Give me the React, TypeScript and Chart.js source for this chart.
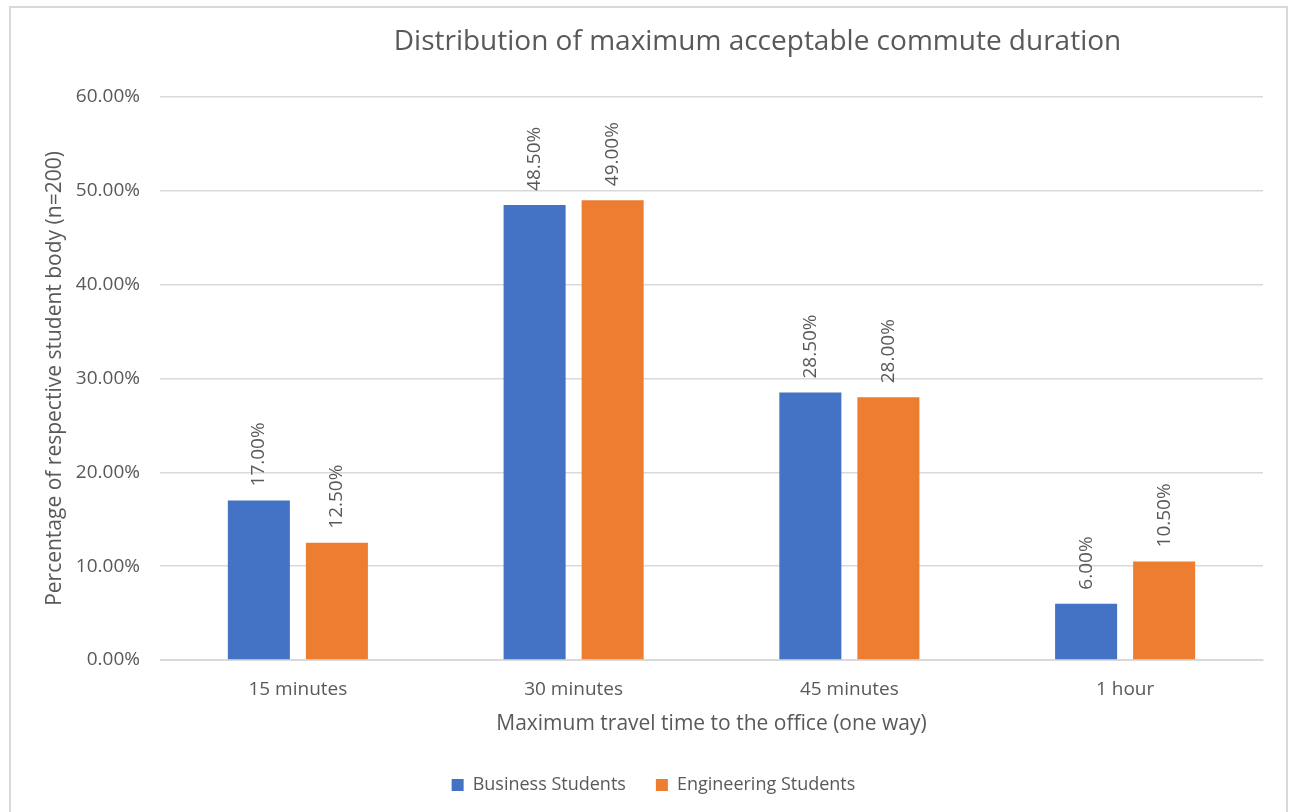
import React, { useEffect, useRef } from "react";
import { Chart, registerables } from "chart.js";

Chart.register(...registerables);

const categories = ["15 minutes", "30 minutes", "45 minutes", "1 hour"];
const businessValues = [17.0, 48.5, 28.5, 6.0];
const engineeringValues = [12.5, 49.0, 28.0, 10.5];
const seriesNames = ["Business Students", "Engineering Students"];
const chartTitle = "Distribution of maximum acceptable commute duration";
const xTitle = "Maximum travel time to the office (one way)";
const yTitle = "Percentage of respective student body (n=200)";

const FONT = '"Open Sans", "Noto Sans", sans-serif';
const TEXT = "#595959";

const titlePlugin = {
  id: "customTitle",
  afterDraw(chart: any) {
    const ctx = chart.ctx;
    const ca = chart.chartArea;
    ctx.save();
    ctx.font = `28px ${FONT}`;
    ctx.fillStyle = TEXT;
    ctx.textAlign = "center";
    ctx.textBaseline = "middle";
    ctx.fillText(chartTitle, (ca.left + ca.right) / 2 + 46, 42);
    ctx.restore();
  },
};

const dataLabelPlugin = {
  id: "dataLabels",
  afterDatasetsDraw(chart: any) {
    const ctx = chart.ctx;
    chart.data.datasets.forEach((ds: any, i: number) => {
      const meta = chart.getDatasetMeta(i);
      meta.data.forEach((bar: any, j: number) => {
        const v = ds.data[j] as number;
        ctx.save();
        ctx.translate(bar.x, bar.y - 14);
        ctx.rotate(-Math.PI / 2);
        ctx.font = `19px ${FONT}`;
        ctx.fillStyle = TEXT;
        ctx.textAlign = "left";
        ctx.textBaseline = "middle";
        ctx.fillText(v.toFixed(2) + "%", 0, 0);
        ctx.restore();
      });
    });
  },
};

export default function App() {
  const ref = useRef<HTMLCanvasElement | null>(null);
  useEffect(() => {
    if (!ref.current) return;
    const chart = new Chart(ref.current, {
      type: "bar",
      data: {
        labels: categories,
        datasets: [
          {
            label: seriesNames[0],
            data: businessValues,
            backgroundColor: "#4472C4",
            categoryPercentage: 0.566,
            barPercentage: 0.795,
          },
          {
            label: seriesNames[1],
            data: engineeringValues,
            backgroundColor: "#ED7D31",
            categoryPercentage: 0.566,
            barPercentage: 0.795,
          },
        ],
      },
      options: {
        responsive: false,
        animation: false,
        layout: { padding: { top: 97, right: 31, bottom: 8, left: 44 } },
        plugins: {
          title: { display: false },
          tooltip: { enabled: false },
          legend: {
            display: true,
            position: "bottom",
            labels: {
              color: TEXT,
              font: { family: FONT, size: 18 },
              boxWidth: 12,
              boxHeight: 12,
              padding: 30,
            },
          },
        },
        scales: {
          x: {
            grid: { display: false },
            border: { display: true, color: "#d9d9d9" },
            ticks: { color: TEXT, font: { family: FONT, size: 19 }, padding: 10 },
            title: {
              display: true,
              text: xTitle,
              color: TEXT,
              font: { family: FONT, size: 21 },
              padding: { top: 0, bottom: 9 },
            },
            afterFit: (scale: any) => {
              scale.height = 86;
            },
          },
          y: {
            min: 0,
            max: 60,
            ticks: {
              stepSize: 10,
              color: TEXT,
              font: { family: FONT, size: 19 },
              padding: 20,
              callback: (v: any) => Number(v).toFixed(2) + "%",
            },
            grid: { color: "#d9d9d9", drawTicks: false, lineWidth: 1.5 },
            border: { display: false },
            title: {
              display: true,
              text: yTitle,
              color: TEXT,
              font: { family: FONT, size: 21 },
              padding: { top: -2, bottom: 0 },
            },
            afterFit: (scale: any) => {
              scale.width = 116;
            },
          },
        },
      },
      plugins: [titlePlugin, dataLabelPlugin],
    });
    return () => chart.destroy();
  }, []);

  return (
    <div style={{ position: "fixed", left: 0, top: 0, width: 1294, height: 812, background: "#fff" }}>
      <div
        style={{
          position: "absolute",
          left: 9,
          top: 6,
          width: 1279,
          height: 900,
          border: "2px solid #d9d9d9",
          boxSizing: "border-box",
        }}
      />
      <canvas ref={ref} width={1294} height={812} style={{ position: "absolute", left: 0, top: 0 }} />
    </div>
  );
}
